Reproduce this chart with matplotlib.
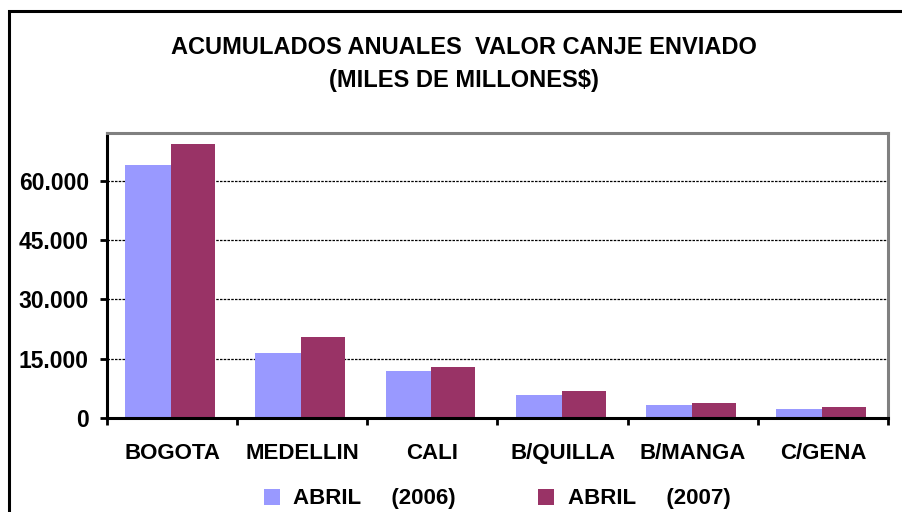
import matplotlib
matplotlib.use("Agg")
import matplotlib.pyplot as plt
from matplotlib.patches import Rectangle
from matplotlib.ticker import FuncFormatter, FixedLocator

# datos (miles de millones $)
ciudades = ["BOGOTA", "MEDELLIN", "CALI", "B/QUILLA", "B/MANGA", "C/GENA"]
abril_2006 = [64000, 16450, 11900, 5800, 3300, 2350]
abril_2007 = [69100, 20500, 12900, 6850, 3800, 2850]
yticks = [0, 15000, 30000, 45000, 60000]

azul = "#9999FF"
vino = "#993366"

plt.rcParams["font.family"] = ["Liberation Sans", "DejaVu Sans"]
plt.rcParams["font.weight"] = "bold"

fig = plt.figure(figsize=(9.02, 5.12), dpi=100)
fig.patch.set_facecolor("white")

# marco exterior del grafico (sale por la derecha y abajo)
fig.patches.append(Rectangle((0.0105, -0.2), 1.5, 0.9785 + 0.2, transform=fig.transFigure,
                             fill=False, edgecolor="black", linewidth=2.2))

ax = fig.add_axes([0.1186, 0.1836, 0.8659, 0.5566])
x = list(range(len(ciudades)))
b1 = ax.bar([i - 0.36 for i in x], abril_2006, width=0.352, align="edge", color=azul, zorder=3)
b2 = ax.bar([i - 0.008 for i in x], abril_2007, width=0.338, align="edge", color=vino, zorder=3)

ax.set_xlim(-0.5, len(ciudades) - 0.5)
ax.set_ylim(0, 72000)
ax.set_yticks(yticks)
ax.yaxis.set_major_formatter(FuncFormatter(lambda v, p: "{:,.0f}".format(v).replace(",", ".")))
ax.tick_params(axis="y", length=5, width=2, pad=8, labelsize=16.5)

ax.set_xticks(x)
ax.set_xticklabels(ciudades)
ax.xaxis.set_minor_locator(FixedLocator([i - 0.5 for i in range(len(ciudades) + 1)]))
ax.tick_params(axis="x", which="major", length=0, pad=18, labelsize=16)
ax.tick_params(axis="x", which="minor", length=5, width=2)

for t in ax.get_xticklabels() + ax.get_yticklabels():
    t.set_fontweight("bold")

ax.yaxis.grid(True, color="black", linestyle=(0, (2, 1)), linewidth=0.9, zorder=1)
ax.set_axisbelow(True)

for s in ["left", "bottom"]:
    ax.spines[s].set_linewidth(2.2)
    ax.spines[s].set_color("black")
for s in ["top", "right"]:
    ax.spines[s].set_linewidth(2.2)
    ax.spines[s].set_color("#808080")
ax.spines["bottom"].set_zorder(4)

fig.text(0.514, 0.908, "ACUMULADOS ANUALES  VALOR CANJE ENVIADO", ha="center", va="center",
         fontsize=17, fontweight="bold")
fig.text(0.514, 0.843, "(MILES DE MILLONES$)", ha="center", va="center",
         fontsize=17, fontweight="bold")

fig.legend([b1, b2], ["ABRIL     (2006)", "ABRIL     (2007)"], loc="center",
           bbox_to_anchor=(0.551, 0.0254), ncol=2, frameon=False, fontsize=16,
           handlelength=0.72, handleheight=0.72, handletextpad=0.59, columnspacing=3.74,
           borderpad=0, borderaxespad=0)

fig.savefig("out.png", dpi=100, facecolor="white")
